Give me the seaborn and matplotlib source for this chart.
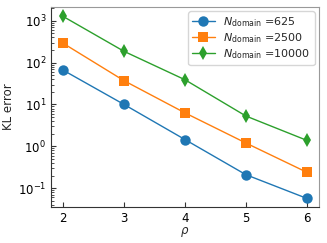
import matplotlib
matplotlib.use("Agg")
import matplotlib.pyplot as plt
import matplotlib.ticker as mticker
import seaborn as sns
import pandas as pd
import numpy as np

rho = [2, 3, 4, 5, 6]
n_domain = [625, 2500, 10000]
kl_625 = [66, 10.0, 1.45, 0.21, 0.057]
kl_2500 = [290, 37, 6.3, 1.2, 0.24]
kl_10000 = [1270, 186, 39, 5.3, 1.39]
markers = ["o", "s", "d"]
colors = ["#1f77b4", "#ff7f0e", "#2ca02c"]

rows = []
for n, vals in zip(n_domain, [kl_625, kl_2500, kl_10000]):
    for r, v in zip(rho, vals):
        rows.append({"rho": r, "kl": v, "N": r"$N_{\mathrm{domain}}$ =" + str(n)})
df = pd.DataFrame(rows)

sns.set_style("white")
plt.rcParams['font.family'] = ['DejaVu Sans']
fig = plt.figure(figsize=(3.27, 2.43), dpi=100)
ax = fig.add_axes([51/327, 1 - 207/243, (319-51)/327, (207-7)/243])

labels = df["N"].unique()
for lab, m, c in zip(labels, markers, colors):
    sub = df[df["N"] == lab]
    sns.lineplot(data=sub, x="rho", y="kl", ax=ax, marker=m, color=c, label=lab,
                 markersize=7.5, markeredgewidth=0, linewidth=1.0)

ax.set_yscale("log")
ax.set_ylim(10**-1.45, 10**3.33)
ax.yaxis.set_major_locator(mticker.LogLocator(base=10, numticks=10))
ax.yaxis.set_minor_locator(mticker.LogLocator(base=10, subs=np.arange(2, 10), numticks=10))
ax.yaxis.set_minor_formatter(mticker.NullFormatter())
ax.set_xlim(1.8, 6.2)
ax.set_xticks(rho)
ax.set_xlabel(r"$\rho$", fontsize=8.5, labelpad=0)
ax.set_ylabel("KL error", fontsize=8.5, labelpad=2)
ax.tick_params(axis="both", which="both", direction="in", labelsize=8.5,
               left=True, bottom=True, right=False, top=False, color="#333333",
               labelcolor="black")
ax.tick_params(axis="y", which="major", length=3.5, width=0.8)
ax.tick_params(axis="y", which="minor", length=2, width=0.6)
ax.tick_params(axis="x", which="major", length=3.5, width=0.8)
for s in ["left", "bottom"]:
    ax.spines[s].set_color("#333333")
for s in ["top", "right"]:
    ax.spines[s].set_color("#999999")
ax.legend(loc="upper right", fontsize=8, handlelength=2, borderpad=0.35, labelspacing=0.2,
          borderaxespad=0.4)
fig.savefig("out.png", dpi=100)
